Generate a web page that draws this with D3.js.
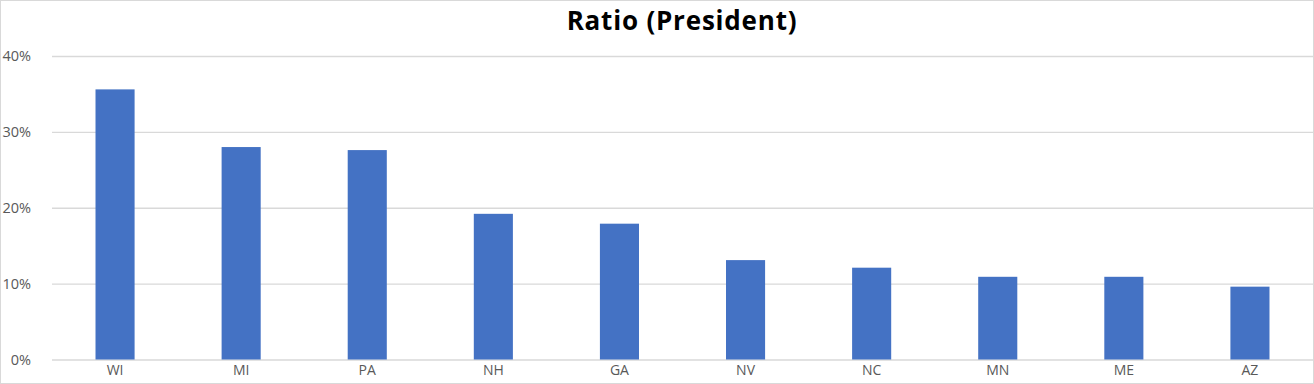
<!DOCTYPE html>
<html>
<head>
<meta charset="utf-8">
<script src="https://cdn.jsdelivr.net/npm/d3@7"></script>
<style>
  html, body { margin: 0; padding: 0; background: #fff; }
  svg { display: block; font-family: "Open Sans", Lato, sans-serif; }
</style>
</head>
<body>
<div id="chart"></div>
<script>
const states = ["WI", "MI", "PA", "NH", "GA", "NV", "NC", "MN", "ME", "AZ"]
const ratios = [0.356, 0.280, 0.276, 0.192, 0.179, 0.131, 0.121, 0.109, 0.109, 0.096]
const yTicks = [0, 0.1, 0.2, 0.3, 0.4]

const width = 1314
const height = 384
const margin = { top: 56, right: 1, bottom: 24.5, left: 52 }

const data = states.map((s, i) => ({ state: s, value: ratios[i] }))

const svg = d3.select("#chart")
  .append("svg")
  .attr("width", width)
  .attr("height", height)

// chart border
svg.append("rect")
  .attr("x", 0.5).attr("y", 0.5)
  .attr("width", width - 1).attr("height", height - 1)
  .attr("fill", "#fff")
  .attr("stroke", "#d9d9d9")

const x = d3.scaleBand()
  .domain(states)
  .range([margin.left, width - margin.right])
  .paddingInner(0.69)
  .paddingOuter(0.345)

const y = d3.scaleLinear()
  .domain([0, 0.4])
  .range([height - margin.bottom, margin.top])

// gridlines + y labels
const yAxis = d3.axisLeft(y)
  .tickValues(yTicks)
  .tickFormat(d3.format(".0%"))
  .tickSize(-(width - margin.right - margin.left))
  .tickPadding(21)

svg.append("g")
  .attr("transform", `translate(${margin.left},0)`)
  .call(yAxis)
  .call(g => g.select(".domain").remove())
  .call(g => g.selectAll(".tick line").attr("stroke", "#d9d9d9").attr("stroke-width", 1.3))
  .call(g => g.selectAll(".tick text")
    .attr("fill", "#595959")
    .attr("font-family", "'Open Sans', sans-serif")
    .attr("font-size", 14.5))

// bars
svg.append("g")
  .attr("fill", "#4472c4")
  .selectAll("rect")
  .data(data)
  .join("rect")
  .attr("x", d => x(d.state))
  .attr("width", x.bandwidth())
  .attr("y", d => y(d.value))
  .attr("height", d => y(0) - y(d.value))

// x labels
const xAxis = d3.axisBottom(x).tickSize(0).tickPadding(6)
svg.append("g")
  .attr("transform", `translate(0,${y(0)})`)
  .call(xAxis)
  .call(g => g.select(".domain").remove())
  .call(g => g.selectAll(".tick text")
    .attr("fill", "#595959")
    .attr("font-family", "'Open Sans', sans-serif")
    .attr("font-size", 14))

// title
svg.append("text")
  .attr("x", 682)
  .attr("y", 30)
  .attr("text-anchor", "middle")
  .attr("font-size", 26)
  .attr("font-weight", "bold")
  .attr("letter-spacing", 0.8)
  .attr("fill", "#000")
  .text("Ratio (President)")
</script>
</body>
</html>
